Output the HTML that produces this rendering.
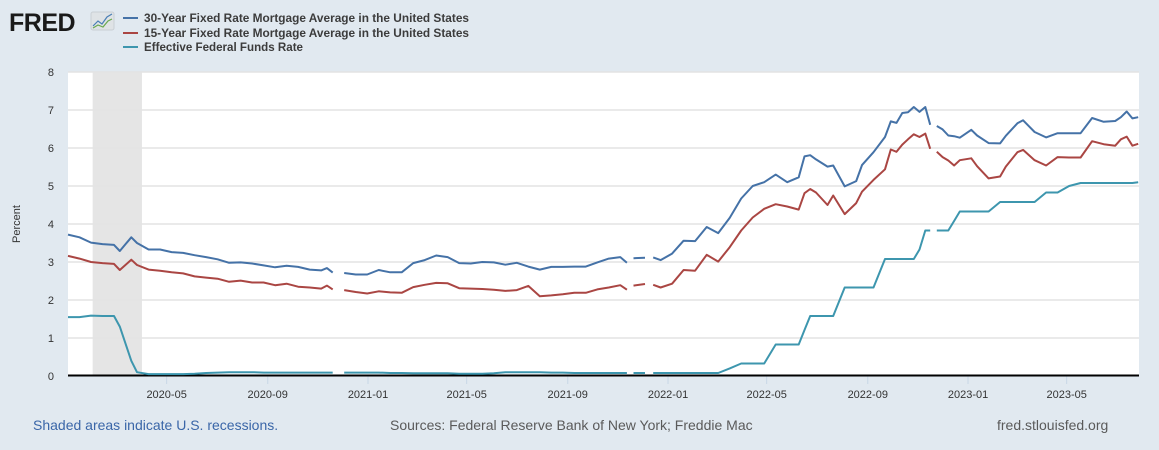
<!DOCTYPE html>
<html><head><meta charset="utf-8">
<style>
body{margin:0;background:#e1e9f0;font-family:"Liberation Sans",Arial,sans-serif;}
#wrap{position:relative;width:1159px;height:450px;overflow:hidden;background:#e1e9f0;}
</style></head>
<body>
<div id="wrap">
<svg id="chart" width="1159" height="450" xmlns="http://www.w3.org/2000/svg">
  <g>
    <text x="9" y="31" font-size="25" font-weight="bold" fill="#1a1a1a" font-family="Liberation Sans, sans-serif" letter-spacing="-0.5">FRED</text>
    <rect x="91" y="12" width="23" height="18" rx="2" fill="#dfe3e6" stroke="#c9cfd4"/>
    <polyline points="93,26 98,21 102,24 107,17 112,14" fill="none" stroke="#4a7fb5" stroke-width="1.2"/>
    <polyline points="93,28 98,25 103,27 108,21 112,19" fill="none" stroke="#6aa84f" stroke-width="1.2"/>
  </g>
  <g font-size="12" font-weight="bold" fill="#3c3c3c">
    <g>
      <line x1="123" y1="18" x2="138" y2="18" stroke="#4572a7" stroke-width="2"/>
      <text x="144" y="22" textLength="325" lengthAdjust="spacingAndGlyphs">30-Year Fixed Rate Mortgage Average in the United States</text>
    </g>
    <g>
      <line x1="123" y1="33" x2="138" y2="33" stroke="#aa4643" stroke-width="2"/>
      <text x="144" y="37" textLength="325" lengthAdjust="spacingAndGlyphs">15-Year Fixed Rate Mortgage Average in the United States</text>
    </g>
    <g>
      <line x1="123" y1="47" x2="138" y2="47" stroke="#3d96ae" stroke-width="2"/>
      <text x="144" y="51" textLength="159" lengthAdjust="spacingAndGlyphs">Effective Federal Funds Rate</text>
    </g>
  </g>
  <rect x="68" y="72" width="1071" height="304" fill="#ffffff"/>
  <g id="recess"></g>
  <g id="grid"></g>
  <g id="yaxis"></g>
  <g id="xaxis"></g>
  <g id="series"></g>
  <text x="20" y="224" font-size="11" fill="#333" transform="rotate(-90 20 224)" text-anchor="middle">Percent</text>
  <text x="33" y="430" font-size="14" fill="#3a66a8">Shaded areas indicate U.S. recessions.</text>
  <text x="390" y="430" font-size="14" fill="#5a5a5a">Sources: Federal Reserve Bank of New York; Freddie Mac</text>
  <text x="997" y="430" font-size="14" fill="#5a5a5a">fred.stlouisfed.org</text>
</svg>
</div>
<script>
const dates = ["2020-01-02","2020-01-16","2020-01-30","2020-02-13","2020-02-27","2020-03-05","2020-03-19","2020-03-26","2020-04-09","2020-04-23",
"2020-05-07","2020-05-21","2020-06-04","2020-06-18","2020-07-02","2020-07-16","2020-07-30","2020-08-13","2020-08-27","2020-09-10",
"2020-09-24","2020-10-08","2020-10-22","2020-11-05","2020-11-12","2020-11-19","2020-11-26","2020-12-03","2020-12-17","2020-12-31",
"2021-01-14","2021-01-28","2021-02-11","2021-02-25","2021-03-11","2021-03-25","2021-04-08","2021-04-22","2021-05-06","2021-05-20",
"2021-06-03","2021-06-17","2021-07-01","2021-07-15","2021-07-29","2021-08-12","2021-08-26","2021-09-09","2021-09-23","2021-10-07",
"2021-10-21","2021-11-04","2021-11-12","2021-11-16","2021-11-20","2021-12-04","2021-12-09","2021-12-14","2021-12-23","2022-01-06",
"2022-01-20","2022-02-03","2022-02-17","2022-03-03","2022-03-17","2022-03-31","2022-04-14","2022-04-28","2022-05-12","2022-05-26",
"2022-06-09","2022-06-16","2022-06-23","2022-06-30","2022-07-14","2022-07-21","2022-08-04","2022-08-18","2022-08-25","2022-09-08",
"2022-09-22","2022-09-29","2022-10-06","2022-10-13","2022-10-20","2022-10-27","2022-11-03","2022-11-10","2022-11-16","2022-11-20",
"2022-11-24","2022-12-01","2022-12-08","2022-12-15","2022-12-22","2023-01-05","2023-01-12","2023-01-26","2023-02-09","2023-02-16",
"2023-03-02","2023-03-09","2023-03-23","2023-04-06","2023-04-20","2023-05-04","2023-05-18","2023-06-01","2023-06-15","2023-06-29",
"2023-07-06","2023-07-13","2023-07-20","2023-07-27"];
const mort30 = [3.72,3.65,3.51,3.47,3.45,3.29,3.65,3.50,3.33,3.33,
3.26,3.24,3.18,3.13,3.07,2.98,2.99,2.96,2.91,2.86,
2.90,2.87,2.80,2.78,2.84,2.72,null,2.71,2.67,2.67,
2.79,2.73,2.73,2.97,3.05,3.17,3.13,2.97,2.96,3.00,
2.99,2.93,2.98,2.88,2.80,2.87,2.87,2.88,2.88,2.99,
3.09,3.13,2.98,null,3.10,3.11,null,3.12,3.05,3.22,
3.56,3.55,3.92,3.76,4.16,4.67,5.00,5.10,5.30,5.10,
5.23,5.78,5.81,5.70,5.51,5.54,4.99,5.13,5.55,5.89,
6.29,6.70,6.66,6.92,6.94,7.08,6.95,7.08,6.61,null,
6.58,6.49,6.33,6.31,6.27,6.48,6.33,6.13,6.12,6.32,
6.65,6.73,6.42,6.28,6.39,6.39,6.39,6.79,6.69,6.71,
6.81,6.96,6.78,6.81];
const mort15 = [3.16,3.09,3.00,2.97,2.95,2.79,3.06,2.92,2.80,2.77,
2.73,2.70,2.62,2.59,2.56,2.48,2.51,2.46,2.46,2.39,
2.43,2.35,2.33,2.30,2.38,2.28,null,2.26,2.21,2.17,
2.23,2.20,2.19,2.34,2.40,2.45,2.44,2.31,2.30,2.29,
2.27,2.24,2.26,2.37,2.10,2.12,2.15,2.19,2.19,2.28,
2.33,2.39,2.27,null,2.38,2.42,null,2.40,2.33,2.43,
2.79,2.77,3.19,3.01,3.39,3.83,4.17,4.40,4.52,4.46,
4.38,4.81,4.92,4.83,4.50,4.75,4.26,4.55,4.85,5.16,
5.44,5.96,5.90,6.09,6.23,6.36,6.29,6.38,5.98,null,
5.90,5.76,5.67,5.54,5.68,5.73,5.52,5.20,5.25,5.51,
5.89,5.95,5.68,5.54,5.76,5.75,5.75,6.18,6.10,6.06,
6.23,6.30,6.06,6.11];
const fedfunds = [1.55,1.55,1.59,1.58,1.58,1.30,0.40,0.10,0.05,0.05,
0.05,0.05,0.06,0.08,0.09,0.10,0.10,0.10,0.09,0.09,
0.09,0.09,0.09,0.09,0.09,0.09,null,0.09,0.09,0.09,
0.09,0.08,0.08,0.07,0.07,0.07,0.07,0.06,0.06,0.06,
0.07,0.10,0.10,0.10,0.10,0.09,0.09,0.08,0.08,0.08,
0.08,0.08,0.08,null,0.08,0.08,null,0.08,0.08,0.08,
0.08,0.08,0.08,0.08,0.20,0.33,0.33,0.33,0.83,0.83,
0.83,1.21,1.58,1.58,1.58,1.58,2.33,2.33,2.33,2.33,
3.08,3.08,3.08,3.08,3.08,3.08,3.33,3.83,3.83,null,
3.83,3.83,3.83,4.08,4.33,4.33,4.33,4.33,4.58,4.58,
4.58,4.58,4.58,4.83,4.83,5.00,5.08,5.08,5.08,5.08,
5.08,5.08,5.08,5.10];
const yTicks = [0,1,2,3,4,5,6,7,8];
const xTickLabels = ["2020-05","2020-09","2021-01","2021-05","2021-09","2022-01","2022-05","2022-09","2023-01","2023-05"];
const recessionStart = "2020-02-01";
const recessionEnd = "2020-04-01";

const NS = "http://www.w3.org/2000/svg";
const X0 = 68, X1 = 1139, Y0 = 376, Y1 = 72;
const dStart = Date.parse("2020-01-02"), dEnd = Date.parse("2023-07-28");
function xs(d){ return X0 + (Date.parse(d) - dStart) / (dEnd - dStart) * (X1 - X0); }
function ys(v){ return Y0 - v / 8 * (Y0 - Y1); }
function mk(tag, attrs, parent){ const e = document.createElementNS(NS, tag); for (const k in attrs) e.setAttribute(k, attrs[k]); parent.appendChild(e); return e; }

const rg = document.getElementById('recess');
const rr = mk('rect', {x: xs(recessionStart), y: Y1, width: xs(recessionEnd) - xs(recessionStart), height: Y0 - Y1, fill: '#e5e5e5'}, rg);



const grid = document.getElementById('grid'), ya = document.getElementById('yaxis');
yTicks.forEach(t => {
  if (t > 0) {
    const gl = mk('line', {x1: X0, x2: X1, y1: ys(t), y2: ys(t), stroke: '#e3e3e3', 'stroke-width': 1.5}, grid);
    
    
  }
  const tl = mk('text', {x: 54, y: ys(t) + 4, 'font-size': 11, fill: '#333', 'text-anchor': 'end'}, ya);
  tl.textContent = t;
  
  
});

const xa = document.getElementById('xaxis');
xTickLabels.forEach(lbl => {
  const x = xs(lbl + "-01");
  const tk = mk('line', {x1: x, x2: x, y1: Y0, y2: Y0 + 8, stroke: '#c8d7e6', 'stroke-width': 1}, xa);
  
  
  const tl = mk('text', {x: x, y: Y0 + 22, 'font-size': 11, fill: '#333', 'text-anchor': 'middle'}, xa);
  tl.textContent = lbl;
  
  
});
const axl = mk('line', {x1: X0, x2: X1, y1: Y0 - 0.5, y2: Y0 - 0.5, stroke: '#000', 'stroke-width': 2}, xa);



const sg = document.getElementById('series');
function drawSeries(vals, color, name){
  let d = "", pen = false;
  vals.forEach((v, i) => {
    if (v === null) { pen = false; return; }
    d += (pen ? "L" : "M") + xs(dates[i]).toFixed(1) + "," + ys(v).toFixed(1);
    pen = true;
  });
  const p = mk('path', {d: d, fill: 'none', stroke: color, 'stroke-width': 2, 'stroke-linejoin': 'round'}, sg);
  
  
}
drawSeries(fedfunds, '#3d96ae', 'series-fed-funds-line');
drawSeries(mort15, '#aa4643', 'series-15yr-mortgage-line');
drawSeries(mort30, '#4572a7', 'series-30yr-mortgage-line');
</script>
</body></html>
